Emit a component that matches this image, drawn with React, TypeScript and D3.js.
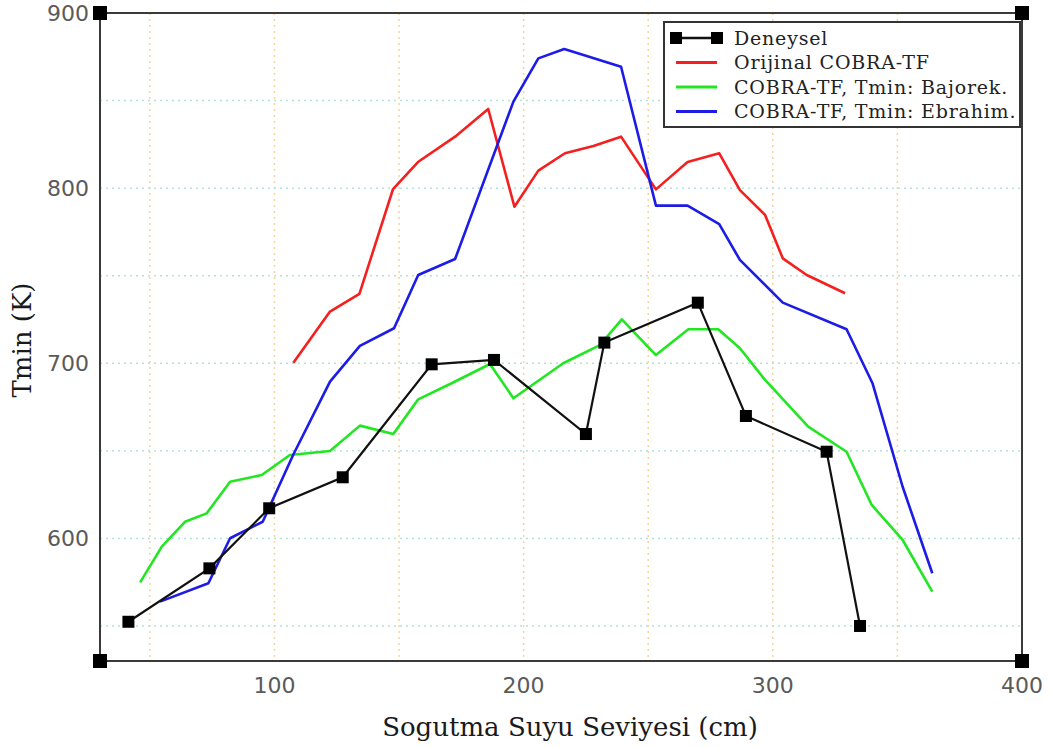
import React from "react";
import * as d3 from "d3";

const xTicks = [100, 200, 300, 400];
const yTicks = [600, 700, 800, 900];
const xGrid = [50, 100, 150, 200, 250, 300, 350];
const yGrid = [550, 600, 650, 700, 750, 800, 850];

const deneyselX = [41.4, 73.9, 97.9, 127.4, 163.1, 188.1, 225, 232.4, 269.9, 289.2, 321.6, 335];
const deneyselY = [552.4, 582.9, 617.2, 634.9, 699.4, 701.9, 659.6, 711.8, 734.6, 669.9, 649.5, 550];

const orijinalX = [107.6, 122.3, 134.1, 147.6, 157.6, 172.5, 185.8, 196.3, 205.9, 216.6, 228, 239.1, 253.1, 265.8, 278.5, 286.8, 296.9, 304, 313.6, 329];
const orijinalY = [700.3, 729.5, 739.6, 799.5, 814.9, 829.4, 845.2, 789.4, 810, 819.9, 824.1, 829.4, 799.3, 814.9, 819.9, 798.9, 784.7, 759.9, 750.4, 740];

const bajorekX = [46.1, 54.8, 64.1, 72.8, 82.2, 94.9, 106.2, 122.3, 134.3, 147.7, 157.7, 171.1, 186.5, 195.9, 215.9, 230.6, 239.4, 253.1, 266.1, 278.1, 286.8, 296.9, 314.2, 329.6, 339.7, 352.1, 364];
const bajorekY = [574.9, 595.3, 609.5, 614.3, 632.4, 636.2, 647.6, 649.9, 664.4, 659.6, 679.4, 688.6, 699.6, 680, 700, 710.4, 725.1, 704.7, 719.4, 719.4, 708.6, 690.5, 663.8, 649.5, 619.1, 599.1, 569.6];

const ebrahimX = [54.1, 73.5, 82.2, 95.3, 107.5, 122.3, 134.3, 148, 157.7, 172.5, 195.9, 205.9, 216.3, 239.1, 253.1, 265.8, 278.5, 286.8, 304, 329.6, 340, 352.1, 364];
const ebrahimY = [563.9, 574.4, 600.1, 609.5, 647.6, 689.5, 709.9, 720, 750.4, 759.5, 849.4, 874.1, 879.4, 869.3, 790, 790, 779.5, 759, 734.6, 719.4, 688.6, 629.5, 580.1];

const legendLabels = ["Deneysel", "Orijinal COBRA-TF", "COBRA-TF, Tmin: Bajorek.", "COBRA-TF, Tmin: Ebrahim."];
const seriesColors = ["#111111", "#f42020", "#22e622", "#1c1ce6"];

const W = 1052;
const H = 747;
const L = 100, R = 1022, T = 13, B = 661;

export default function App() {
  const x = d3.scaleLinear().domain([30, 400]).range([L, R]);
  const y = d3.scaleLinear().domain([530, 900]).range([B, T]);
  const zip = (xs: number[], ys: number[]) => xs.map((v, i) => [v, ys[i]] as [number, number]);
  const line = d3.line<[number, number]>().x((d) => x(d[0])).y((d) => y(d[1]));

  const series = [
    zip(deneyselX, deneyselY),
    zip(orijinalX, orijinalY),
    zip(bajorekX, bajorekY),
    zip(ebrahimX, ebrahimY),
  ];

  const tickFont = "DejaVu Sans, sans-serif";
  const serif = "DejaVu Serif, serif";
  const corner = 14;
  const mk = 12;
  const legX = 664, legY = 22, legW = 356, legH = 105;

  return (
    <svg width={W} height={H} style={{ position: "absolute", left: 0, top: 0, background: "#fff" }}>
      <rect x={0} y={0} width={W} height={H} fill="#fff" />
      {/* grid */}
      {xGrid.map((g) => (
        <line key={"gx" + g} x1={x(g)} x2={x(g)} y1={T} y2={B} stroke="#f6d49a" strokeWidth={1.5} strokeDasharray="2,4" />
      ))}
      {yGrid.map((g) => (
        <line key={"gy" + g} x1={L} x2={R} y1={y(g)} y2={y(g)} stroke="#b0e2df" strokeWidth={1.5} strokeDasharray="2,4" />
      ))}
      {/* frame */}
      <rect x={L} y={T} width={R - L} height={B - T} fill="none" stroke="#3a3a3a" strokeWidth={2} />
      {[[L, T], [R, T], [L, B], [R, B]].map(([cx, cy], i) => (
        <rect key={"c" + i} x={cx - corner / 2} y={cy - corner / 2} width={corner} height={corner} fill="#000" />
      ))}
      {/* ticks labels */}
      {xTicks.map((t) => (
        <text key={"xt" + t} x={x(t)} y={693} textAnchor="middle" fontFamily={tickFont} fontSize={22} fill="#5a5a5a">{t}</text>
      ))}
      {yTicks.map((t) => (
        <text key={"yt" + t} x={89} y={y(t) + 8} textAnchor="end" fontFamily={tickFont} fontSize={22} fill="#5a5a5a">{t}</text>
      ))}
      {/* axis titles */}
      <text x={570} y={736} textAnchor="middle" fontFamily={serif} fontSize={26} fill="#1a1a1a">Sogutma Suyu Seviyesi (cm)</text>
      <text transform={`translate(31,340) rotate(-90)`} textAnchor="middle" fontFamily={serif} fontSize={26} fill="#1a1a1a">Tmin (K)</text>
      {/* lines */}
      {series.slice(1).map((s, i) => (
        <path key={"s" + i} d={line(s) || ""} fill="none" stroke={seriesColors[i + 1]} strokeWidth={2.6} strokeLinejoin="round" />
      ))}
      <path d={line(series[0]) || ""} fill="none" stroke={seriesColors[0]} strokeWidth={2.2} />
      {series[0].map((d, i) => (
        <rect key={"m" + i} x={x(d[0]) - mk / 2} y={y(d[1]) - mk / 2} width={mk} height={mk} fill="#000" />
      ))}
      {/* legend */}
      <rect x={legX} y={legY} width={legW} height={legH} fill="#fff" stroke="#333" strokeWidth={2} />
      {legendLabels.map((lab, i) => {
        const cy = 38 + i * 24.5;
        return (
          <g key={"l" + i}>
            <line x1={676} x2={717} y1={cy} y2={cy} stroke={seriesColors[i]} strokeWidth={i === 0 ? 2.4 : 2.8} />
            {i === 0 && (
              <>
                <rect x={676 - 6} y={cy - 6} width={12} height={12} fill="#000" />
                <rect x={717 - 6} y={cy - 6} width={12} height={12} fill="#000" />
              </>
            )}
            <text x={734} y={cy + 6.5} fontFamily={serif} fontSize={19} letterSpacing={0.8} fill="#222">{lab}</text>
          </g>
        );
      })}
    </svg>
  );
}
